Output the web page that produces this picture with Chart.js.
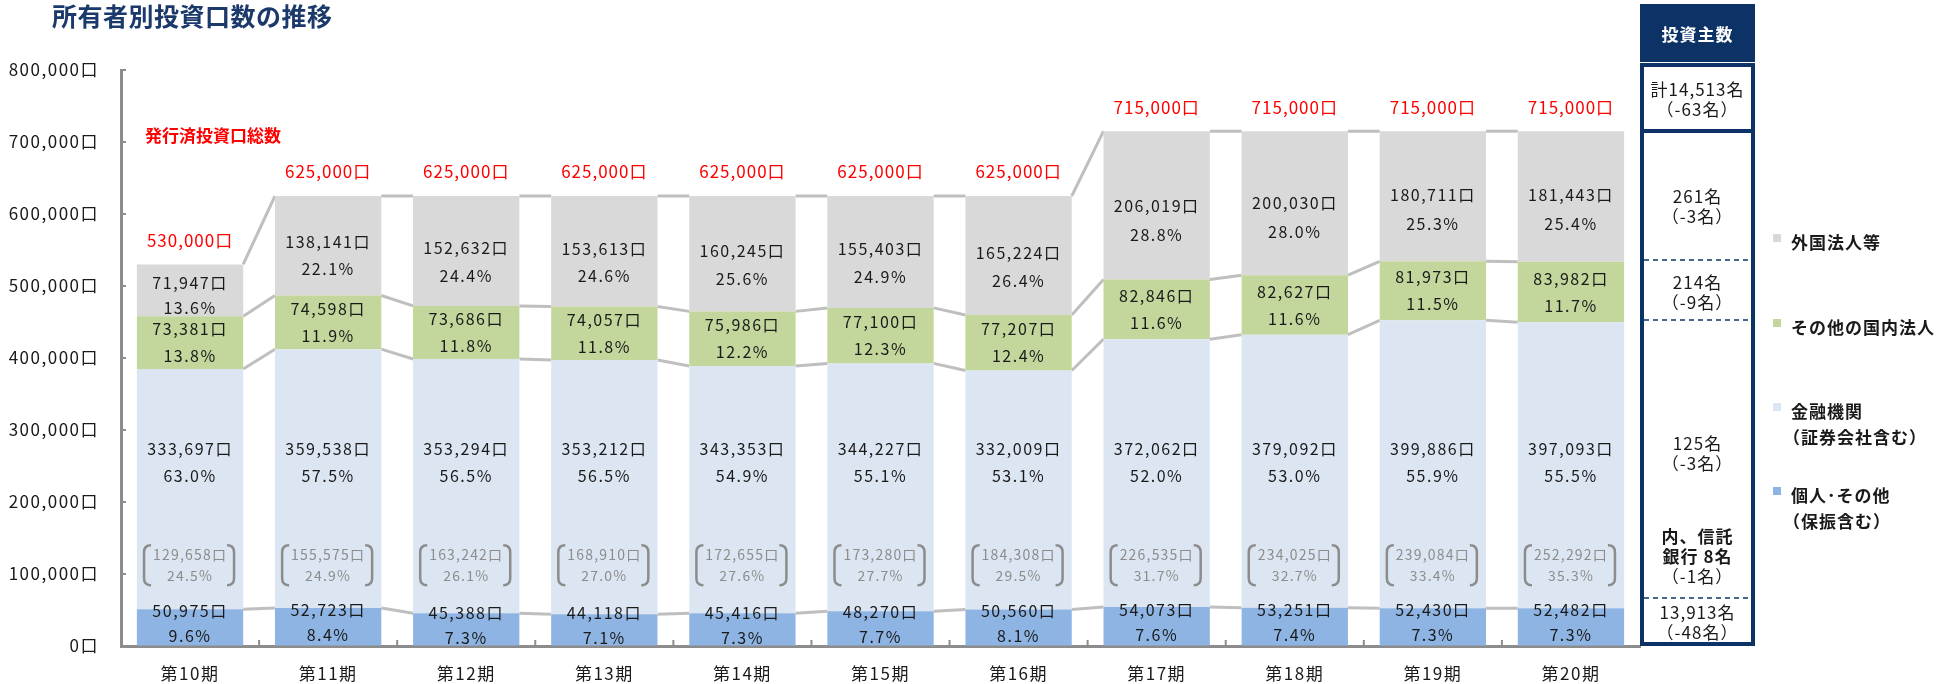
<!DOCTYPE html>
<html><head><meta charset="utf-8">
<script src="https://cdn.jsdelivr.net/npm/chart.js@4.4.1/dist/chart.umd.min.js"></script>
<style>
html,body{margin:0;padding:0;background:#fff;}
#wrap{position:relative;width:1948px;height:684px;}
canvas{position:absolute;left:0;top:0;}
</style></head><body>
<div id="wrap"><canvas id="c" width="1948" height="684"></canvas></div>
<script>
// ---- data ----
const categories = ['第10期','第11期','第12期','第13期','第14期','第15期','第16期','第17期','第18期','第19期','第20期'];
const individuals    = [50975, 52723, 45388, 44118, 45416, 48270, 50560, 54073, 53251, 52430, 52482];
const individualsPct = ['9.6%','8.4%','7.3%','7.1%','7.3%','7.7%','8.1%','7.6%','7.4%','7.3%','7.3%'];
const financial      = [333697, 359538, 353294, 353212, 343353, 344227, 332009, 372062, 379092, 399886, 397093];
const financialPct   = ['63.0%','57.5%','56.5%','56.5%','54.9%','55.1%','53.1%','52.0%','53.0%','55.9%','55.5%'];
const domestic       = [73381, 74598, 73686, 74057, 75986, 77100, 77207, 82846, 82627, 81973, 83982];
const domesticPct    = ['13.8%','11.9%','11.8%','11.8%','12.2%','12.3%','12.4%','11.6%','11.6%','11.5%','11.7%'];
const foreign        = [71947, 138141, 152632, 153613, 160245, 155403, 165224, 206019, 200030, 180711, 181443];
const foreignPct     = ['13.6%','22.1%','24.4%','24.6%','25.6%','24.9%','26.4%','28.8%','28.0%','25.3%','25.4%'];
const trustBank      = [129658, 155575, 163242, 168910, 172655, 173280, 184308, 226535, 234025, 239084, 252292];
const trustBankPct   = ['24.5%','24.9%','26.1%','27.0%','27.6%','27.7%','29.5%','31.7%','32.7%','33.4%','35.3%'];
const totalIssued    = [530000, 625000, 625000, 625000, 625000, 625000, 625000, 715000, 715000, 715000, 715000];
const yTickValues    = [0, 100000, 200000, 300000, 400000, 500000, 600000, 700000, 800000];
const seriesNames    = [['個人･その他','（保振含む）'], ['金融機関','（証券会社含む）'], ['その他の国内法人'], ['外国法人等']];
const seriesColors   = ['#8EB4E3', '#DCE6F2', '#C3D69B', '#D9D9D9'];
const titleText      = '所有者別投資口数の推移';
const totalLabelText = '発行済投資口総数';
const panelHeader    = '投資主数';
const panelTotal     = ['計14,513名', '（-63名）'];
const panelRows      = [['261名','（-3名）'], ['214名','（-9名）'], ['125名','（-3名）'], ['内、信託','銀行 8名','（-1名）'], ['13,913名','（-48名）']];

const FONT = "'Noto Sans CJK JP', 'Noto Sans', sans-serif";
const fmt = v => v.toLocaleString('en-US') + '口';
const NAVY = '#0D3366';

function drawLines(ctx, x, cy, lines, gap, fonts) {
  const n = lines.length;
  lines.forEach((t, k) => {
    if (fonts) ctx.font = fonts[k];
    ctx.fillText(t, x, cy + (k - (n - 1) / 2) * gap);
  });
}

const spacing = {
  id: 'spacing',
  beforeDraw(chart) { chart.ctx.letterSpacing = '1.5px'; },
  beforeDatasetsDraw(chart) { chart.ctx.letterSpacing = '1.5px'; }
};

const decor = {
  id: 'decor',
  beforeDatasetsDraw(chart) {
    const ctx = chart.ctx;
    ctx.save();
    ctx.strokeStyle = '#BFBFBF';
    ctx.lineWidth = 3;
    for (let d = 0; d < 4; d++) {
      const meta = chart.getDatasetMeta(d);
      for (let j = 0; j < meta.data.length - 1; j++) {
        const a = meta.data[j], b = meta.data[j + 1];
        ctx.beginPath();
        ctx.moveTo(a.x + a.width / 2, a.y);
        ctx.lineTo(b.x - b.width / 2, b.y);
        ctx.stroke();
      }
    }
    ctx.restore();
  },
  afterDraw(chart) {
    const ctx = chart.ctx;
    const xs = chart.scales.x, ys = chart.scales.y, area = chart.chartArea;
    ctx.save();
    // inward y ticks
    ctx.strokeStyle = '#8C8C8C';
    ctx.lineWidth = 2;
    yTickValues.forEach(v => {
      const y = ys.getPixelForValue(v);
      ctx.beginPath(); ctx.moveTo(area.left, y); ctx.lineTo(area.left + 5, y); ctx.stroke();
    });
    // x boundary ticks (upward)
    for (let i = 1; i < categories.length; i++) {
      const x = (xs.getPixelForValue(i - 1) + xs.getPixelForValue(i)) / 2;
      ctx.beginPath(); ctx.moveTo(x, area.bottom); ctx.lineTo(x, area.bottom - 6); ctx.stroke();
    }

    // labels
    ctx.textAlign = 'center';
    ctx.textBaseline = 'middle';
    const m0 = chart.getDatasetMeta(0), m1 = chart.getDatasetMeta(1), m2 = chart.getDatasetMeta(2), m3 = chart.getDatasetMeta(3);
    for (let j = 0; j < categories.length; j++) {
      ctx.fillStyle = '#1A1A1A';
      ctx.font = '16px ' + FONT;
      ctx.letterSpacing = '1.5px';
      let e = m0.data[j];
      drawLines(ctx, e.x, (e.y + e.base) / 2 - 4, [fmt(individuals[j]), individualsPct[j]], 25);
      e = m1.data[j];
      drawLines(ctx, e.x, ys.getPixelForValue(255000), [fmt(financial[j]), financialPct[j]], 27);
      e = m2.data[j];
      drawLines(ctx, e.x, (e.y + e.base) / 2, [fmt(domestic[j]), domesticPct[j]], 27);
      e = m3.data[j];
      const h = e.base - e.y;
      drawLines(ctx, e.x, (e.y + e.base) / 2 + 0.1 * h, [fmt(foreign[j]), foreignPct[j]], 22 + 0.05 * h);
      // total issued
      ctx.fillStyle = '#FF0000';
      ctx.font = '17px ' + FONT;
      ctx.letterSpacing = '1px';
      ctx.fillText(fmt(totalIssued[j]), e.x, e.y - 24);
      // trust bank annotation
      const cx = m1.data[j].x;
      const cy = ys.getPixelForValue(112000);
      ctx.fillStyle = '#8C8C8C';
      ctx.font = '14px ' + FONT;
      ctx.letterSpacing = '1.2px';
      drawLines(ctx, cx, cy, [fmt(trustBank[j]), trustBankPct[j]], 21);
      ctx.strokeStyle = '#8C8C8C';
      ctx.lineWidth = 2.5;
      const top = cy - 20, bot = cy + 20, xl = cx - 46, xr = cx + 44, r = 7;
      ctx.beginPath();
      ctx.moveTo(xl + r, top); ctx.quadraticCurveTo(xl, top, xl, top + r);
      ctx.lineTo(xl, bot - r); ctx.quadraticCurveTo(xl, bot, xl + r, bot);
      ctx.stroke();
      ctx.beginPath();
      ctx.moveTo(xr - r, top); ctx.quadraticCurveTo(xr, top, xr, top + r);
      ctx.lineTo(xr, bot - r); ctx.quadraticCurveTo(xr, bot, xr - r, bot);
      ctx.stroke();
    }

    // title
    ctx.letterSpacing = '0.5px';
    ctx.textAlign = 'left';
    ctx.fillStyle = '#1B3A6B';
    ctx.font = 'bold 25px ' + FONT;
    ctx.fillText(titleText, 52, 16);
    // total label
    ctx.letterSpacing = '0px';
    ctx.fillStyle = '#FF0000';
    ctx.font = 'bold 17px ' + FONT;
    ctx.fillText(totalLabelText, 145, 136);

    // right panel
    const px = 1640, pw = 115, pcx = px + pw / 2;
    ctx.fillStyle = NAVY;
    ctx.fillRect(px, 4, pw, 58);
    ctx.fillStyle = '#FFFFFF';
    ctx.textAlign = 'center';
    ctx.font = 'bold 17px ' + FONT;
    ctx.letterSpacing = '1px';
    ctx.fillText(panelHeader, pcx, 35);
    ctx.strokeStyle = NAVY;
    ctx.lineWidth = 4;
    ctx.strokeRect(px + 2, 65, pw - 4, 66);
    ctx.strokeRect(px + 2, 131, pw - 4, 513);
    ctx.lineWidth = 1.5;
    ctx.setLineDash([5, 4]);
    [260, 320, 598].forEach(y => { ctx.beginPath(); ctx.moveTo(px + 4, y); ctx.lineTo(px + pw - 4, y); ctx.stroke(); });
    ctx.setLineDash([]);
    ctx.fillStyle = '#1A1A1A';
    const f17 = '17px ' + FONT, b17 = 'bold 17px ' + FONT;
    drawLines(ctx, pcx, 100, panelTotal, 20, [f17, f17]);
    const rowCenters = [207, 293, 454, 557, 623];
    panelRows.forEach((rows, k) => {
      const fonts = k === 3 ? [b17, b17, f17] : rows.map(() => f17);
      drawLines(ctx, pcx, rowCenters[k], rows, 20, fonts);
    });

    // legend (top to bottom: reverse dataset order)
    const legendY = [243, 328, 412, 496];
    ctx.textAlign = 'left';
    ctx.font = 'bold 17px ' + FONT;
    ctx.letterSpacing = '1px';
    for (let k = 0; k < 4; k++) {
      const d = 3 - k;
      const y = legendY[k];
      ctx.fillStyle = seriesColors[d];
      ctx.fillRect(1773, y - 9, 8, 8);
      ctx.fillStyle = '#1A1A1A';
      seriesNames[d].forEach((t, li) => {
        const lx = li === 0 ? 1791 : 1783;
        ctx.fillText(t, lx, y + li * 26);
      });
    }
    ctx.restore();
  }
};

const datasetsValues = [individuals, financial, domestic, foreign];
new Chart(document.getElementById('c'), {
  type: 'bar',
  data: {
    labels: categories,
    datasets: datasetsValues.map((vals, d) => ({
      label: seriesNames[d].join(''),
      data: vals,
      backgroundColor: seriesColors[d],
      borderWidth: 0,
      categoryPercentage: 1,
      barPercentage: 0.77
    }))
  },
  options: {
    responsive: false,
    animation: false,
    devicePixelRatio: 1,
    layout: { padding: { top: 70, right: 308, left: 0, bottom: 0 } },
    plugins: { legend: { display: false }, tooltip: { enabled: false } },
    scales: {
      x: {
        stacked: true,
        grid: { display: true, drawOnChartArea: false, drawTicks: false },
        border: { color: '#8C8C8C', width: 3 },
        ticks: { color: '#1A1A1A', font: { family: FONT, size: 17 }, padding: 17 },
        afterFit: a => { a.height = 38; }
      },
      y: {
        stacked: true,
        min: 0, max: 800000,
        afterBuildTicks: a => { a.ticks = yTickValues.map(v => ({ value: v })); },
        grid: { display: true, drawOnChartArea: false, drawTicks: false },
        border: { color: '#8C8C8C', width: 3 },
        ticks: { color: '#1A1A1A', font: { family: FONT, size: 17 }, padding: 22, callback: v => fmt(v) },
        afterFit: a => { a.width = 121; }
      }
    }
  },
  plugins: [spacing, decor]
});
</script>
</body></html>
